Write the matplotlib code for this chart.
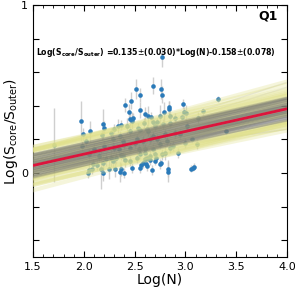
import matplotlib
matplotlib.use("Agg")
import matplotlib.pyplot as plt
from matplotlib.ticker import MultipleLocator, FuncFormatter

# data: Log(N), Log(Score/Souter), error
log_n = [1.71, 1.97, 1.99, 1.98, 2.06, 2.19, 2.18, 2.04, 2.05, 2.09,
         2.08, 2.17, 2.19, 2.25, 2.31, 2.36, 2.37, 2.40, 2.47, 2.55,
         2.62, 2.61, 2.67, 2.70, 2.71, 2.70, 2.75, 2.76, 2.83, 2.83,
         3.05, 3.08, 3.07, 2.77, 2.51, 2.68, 2.76, 2.55, 2.77, 2.46,
         2.41, 3.32, 2.98, 2.84, 2.84, 2.55, 2.79, 2.60, 2.44, 2.45,
         2.47, 2.48, 2.34, 2.37, 2.42, 2.75, 2.85, 2.66, 2.63, 2.90,
         2.97, 3.12, 3.17, 2.99, 3.01, 2.68, 2.72, 2.59, 2.27, 2.29,
         2.36, 2.39, 2.45, 2.53, 2.55, 2.62, 2.63, 2.52, 2.65, 2.22,
         2.27, 2.32, 2.37, 2.39, 2.29, 2.19, 2.41, 2.45, 2.60, 2.62,
         2.65, 2.55, 2.52, 2.60, 2.54, 2.60, 2.65, 2.77, 2.80, 2.85,
         2.88, 3.00, 3.06, 3.11, 3.40, 2.13, 2.15, 2.58, 2.56, 2.30,
         2.40, 2.50, 2.58, 2.68, 2.72, 2.80, 2.90, 2.95, 2.10, 2.20,
         2.35, 2.45, 2.75, 2.82, 2.05, 2.20, 2.30, 2.70, 2.78, 2.85,
         2.02, 3.02, 2.93, 2.68]
log_ratio = [0.168, 0.31, 0.23, 0.16, 0.247, 0.29, 0.226, 0.002, 0.02, 0.052,
             0.026, 0.022, 0.002, 0.026, 0.026, 0.006, 0.022, 0.002, 0.032, 0.032,
             0.04, 0.055, 0.018, 0.11, 0.09, 0.07, 0.052, 0.06, 0.026, 0.006,
             0.026, 0.038, 0.03, 0.69, 0.50, 0.52, 0.50, 0.465, 0.465, 0.43,
             0.405, 0.44, 0.41, 0.39, 0.38, 0.375, 0.36, 0.35, 0.36, 0.32,
             0.31, 0.325, 0.28, 0.285, 0.28, 0.337, 0.34, 0.335, 0.34, 0.325,
             0.335, 0.33, 0.367, 0.36, 0.357, 0.305, 0.305, 0.30, 0.24, 0.20,
             0.22, 0.19, 0.25, 0.27, 0.255, 0.26, 0.25, 0.20, 0.20, 0.082,
             0.088, 0.092, 0.108, 0.10, 0.07, 0.062, 0.078, 0.07, 0.084, 0.09,
             0.08, 0.112, 0.092, 0.14, 0.14, 0.12, 0.10, 0.11, 0.118, 0.15,
             0.16, 0.18, 0.20, 0.17, 0.25, 0.05, 0.10, 0.06, 0.045, 0.15,
             0.17, 0.18, 0.19, 0.22, 0.20, 0.23, 0.24, 0.23, 0.14, 0.16,
             0.14, 0.15, 0.17, 0.19, 0.11, 0.27, 0.26, 0.28, 0.29, 0.30,
             0.19, 0.28, 0.12, 0.14]
ratio_err = [0.22, 0.12, 0.04, 0.03, 0.06, 0.09, 0.03, 0.03, 0.04, 0.03,
             0.03, 0.12, 0.05, 0.06, 0.05, 0.06, 0.04, 0.03, 0.03, 0.03,
             0.03, 0.02, 0.03, 0.03, 0.03, 0.02, 0.03, 0.02, 0.05, 0.06,
             0.02, 0.02, 0.02, 0.06, 0.06, 0.05, 0.06, 0.04, 0.05, 0.05,
             0.04, 0.02, 0.03, 0.04, 0.05, 0.05, 0.06, 0.04, 0.05, 0.04,
             0.05, 0.03, 0.04, 0.03, 0.05, 0.07, 0.03, 0.03, 0.06, 0.03,
             0.02, 0.03, 0.02, 0.03, 0.05, 0.03, 0.02, 0.03, 0.03, 0.04,
             0.03, 0.03, 0.03, 0.03, 0.02, 0.03, 0.03, 0.03, 0.03, 0.04,
             0.05, 0.04, 0.03, 0.03, 0.04, 0.05, 0.04, 0.03, 0.03, 0.03,
             0.03, 0.03, 0.03, 0.03, 0.03, 0.02, 0.03, 0.03, 0.04, 0.03,
             0.03, 0.03, 0.02, 0.03, 0.02, 0.03, 0.04, 0.03, 0.02, 0.03,
             0.03, 0.03, 0.03, 0.03, 0.03, 0.03, 0.03, 0.03, 0.03, 0.03,
             0.03, 0.03, 0.03, 0.03, 0.03, 0.04, 0.03, 0.03, 0.03, 0.03,
             0.03, 0.03, 0.03, 0.03]

# best fit and posterior sample lines (slope, intercept)
fit_slope, fit_icept = 0.135, -0.158
wide_slopes = [0.135, 0.150, 0.120, 0.140, 0.125, 0.155, 0.115, 0.145, 0.130, 0.150,
               0.120, 0.135, 0.155, 0.125, 0.140, 0.115, 0.145, 0.130, 0.150, 0.120,
               0.140, 0.125, 0.135, 0.145, 0.145, 0.130, 0.130, 0.160, 0.160, 0.110,
               0.110, 0.155, 0.125, 0.165, 0.160]
wide_icepts = [-0.268, -0.297, -0.209, -0.251, -0.202, -0.270, -0.156, -0.224, -0.175, -0.217,
               -0.129, -0.158, -0.200, -0.112, -0.141, -0.066, -0.134, -0.085, -0.127, -0.039,
               -0.081, -0.032, -0.048, -0.289, -0.079, -0.230, -0.060, -0.268, -0.178, -0.028,
               -0.158, -0.095, -0.247, -0.116, -0.343]
core_slopes = [0.135, 0.145, 0.125, 0.140, 0.130, 0.150, 0.120, 0.135, 0.145, 0.125,
               0.140, 0.130, 0.150, 0.120, 0.135, 0.145, 0.125, 0.140, 0.130, 0.150,
               0.120, 0.135, 0.145, 0.125, 0.140, 0.130, 0.135]
core_icepts = [-0.223, -0.244, -0.187, -0.221, -0.190, -0.237, -0.154, -0.188, -0.209, -0.152,
               -0.186, -0.155, -0.202, -0.119, -0.153, -0.174, -0.117, -0.151, -0.120, -0.167,
               -0.084, -0.118, -0.139, -0.082, -0.116, -0.085, -0.093]
faint_slopes = [0.200, 0.190, 0.080, 0.085]
faint_icepts = [-0.260, -0.250, -0.060, -0.080]

fig = plt.figure(figsize=(2.95, 2.92), dpi=100)
ax = fig.add_axes([0.112, 0.12, 0.861, 0.863])

ax.errorbar(log_n, log_ratio, yerr=ratio_err, fmt='none', ecolor='#c4c4c4',
            elinewidth=1, alpha=0.8, zorder=1)
ax.plot(log_n, log_ratio, 'o', color='#2a7ab9', ms=3.3, mew=0, zorder=2)

for s, b in zip(faint_slopes, faint_icepts):
    ax.axline((0, b), slope=s, color='#cccccc', lw=1, alpha=0.4, zorder=3)
for s, b in zip(wide_slopes, wide_icepts):
    ax.axline((0, b), slope=s, color='#e0e088', lw=3, alpha=0.3, zorder=3)
for s, b in zip(core_slopes, core_icepts):
    ax.axline((0, b), slope=s, color='#6e6e6e', lw=2, alpha=0.28, zorder=4)
ax.axline((0, fit_icept), slope=fit_slope, color='#dc143c', lw=2, zorder=5)

ax.set_xlim(1.5, 4.0)
ax.set_ylim(-0.5, 1.0)
ax.xaxis.set_major_locator(MultipleLocator(0.5))
ax.xaxis.set_minor_locator(MultipleLocator(0.1))
ax.yaxis.set_major_locator(MultipleLocator(0.2))
ax.yaxis.set_major_formatter(FuncFormatter(
    lambda v, p: '%d' % round(v) if abs(v - round(v)) < 1e-6 else ''))
ax.tick_params(which='both', direction='in', top=True, right=True, labelsize=8)
ax.tick_params(which='major', length=4)
ax.tick_params(which='minor', length=2)

ax.set_xlabel('Log(N)', fontsize=10, labelpad=1)
ax.set_ylabel(r'Log(S$_{\rm core}$/S$_{\rm outer}$)', fontsize=10, labelpad=1)

ax.text(0.012, 0.81,
        r'Log($\mathregular{S_{core}/S_{outer}}$) =0.135$\pm$(0.030)*Log(N)-0.158$\pm$(0.078)',
        transform=ax.transAxes, fontsize=5.6, fontweight='bold', va='center')
ax.text(0.965, 0.955, 'Q1', transform=ax.transAxes, fontsize=9,
        fontweight='bold', ha='right', va='center')

fig.savefig('out.png', dpi=100)
